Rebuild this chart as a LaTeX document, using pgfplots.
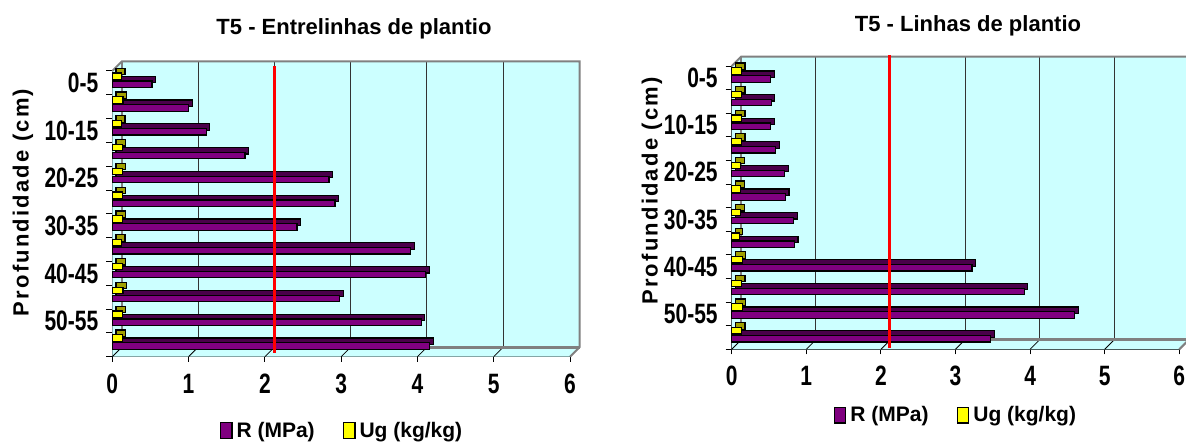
\documentclass[border=0pt]{standalone}
\usepackage{fontspec}
\setmainfont{Liberation Sans}
\newfontfamily\condfont{Liberation Sans Bold}[FakeStretch=0.75]
\newfontfamily\boldfont{Liberation Sans Bold}
\newfontfamily\spacedfont{Liberation Sans Bold}[LetterSpace=10]
\usepackage{pgfplots}
\pgfplotsset{compat=1.18}
\usepackage{pgfplotstable}
\definecolor{wall}{HTML}{CCFFFF}
\definecolor{rbar}{HTML}{800080}
\definecolor{rdark}{HTML}{4A004A}
\definecolor{ubar}{HTML}{FFFF00}
\definecolor{udark}{HTML}{A0A000}
\definecolor{wallgray}{HTML}{808080}
\definecolor{gridc}{HTML}{333333}
\newcommand\dep{4.75pt}

\pgfplotstableread{
y R Ug
12 0.52 0.12
11 1.00 0.14
10 1.23 0.12
9 1.74 0.13
8 2.84 0.13
7 2.92 0.13
6 2.42 0.13
5 3.91 0.12
4 4.11 0.13
3 2.98 0.14
2 4.05 0.13
1 4.16 0.13
}\leftdata

\pgfplotstableread{
y R Ug
12 0.52 0.13
11 0.53 0.13
10 0.52 0.13
9 0.59 0.13
8 0.71 0.12
7 0.72 0.12
6 0.83 0.12
5 0.84 0.10
4 3.22 0.14
3 3.92 0.13
2 4.60 0.14
1 3.47 0.13
}\rightdata

\pgfplotsset{
  chart3d/.style={
    scale only axis, clip=false,
    xmin=0, xmax=6, ymin=0.5, ymax=12.5,
    axis x line*=bottom, axis y line*=left,
    axis line style={black, line width=0.5pt, -},
    xtick={0,...,6},
    ytick={12,10,8,6,4,2},
    yticklabels={0-5,10-15,20-25,30-35,40-45,50-55},
    minor ytick={0.5,1.5,...,12.5},
    tick align=outside,
    major tick length=2.5pt, minor tick length=3pt,
    major y tick style={draw=none},
    minor y tick style={black, line width=0.5pt},
    major x tick style={black, line width=0.5pt},
    /pgf/number format/assume math mode=true,
    xticklabel style={font=\condfont\fontsize{14}{16}\selectfont, yshift=-2.5pt},
    yticklabel style={font=\condfont\fontsize{14}{16}\selectfont, xshift=-1pt},
    legend columns=2,
    legend style={draw=none, fill=none, font=\boldfont\fontsize{10.5}{12}\selectfont,
      /tikz/every even column/.append style={column sep=12pt}},
  },
  rstyle/.style={xbar, bar width=3.2pt, bar shift=-0.6pt, fill=rbar, draw=black, line width=0.6pt,
    legend image code/.code={\draw[fill=rbar, draw=black, line width=0.6pt] (0pt,-3.6pt) rectangle (5.8pt,4.2pt);}},
  rshadow/.style={xbar, bar width=3.2pt, bar shift=-0.6pt, fill=rdark, draw=black, line width=0.6pt, forget plot,
    xshift=1.8pt, yshift=2.4pt},
  ustyle/.style={xbar, bar width=3.2pt, bar shift=3.4pt, fill=ubar, draw=black, line width=0.6pt,
    legend image code/.code={\draw[fill=ubar, draw=black, line width=0.6pt] (0pt,-3.6pt) rectangle (5.8pt,4.2pt);}},
  ushadow/.style={xbar, bar width=3.2pt, bar shift=3.4pt, fill=udark, draw=black, line width=0.6pt, forget plot,
    xshift=1.8pt, yshift=2.4pt},
}

\newcommand\walls{%
  \fill[wall] (axis cs:0,0.5) -- (axis cs:6,0.5) -- ([shift={(\dep,\dep)}]axis cs:6,0.5)
    -- ([shift={(\dep,\dep)}]axis cs:6,12.5) -- ([shift={(\dep,\dep)}]axis cs:0,12.5)
    -- (axis cs:0,12.5) -- cycle;
  \pgfplotsinvokeforeach{1,...,5}{%
    \draw[gridc, line width=0.5pt] ([shift={(\dep,\dep)}]axis cs:##1,0.5) -- ([shift={(\dep,\dep)}]axis cs:##1,12.5);}
  \pgfplotsinvokeforeach{0,...,6}{%
    \draw[black, line width=0.4pt] (axis cs:##1,0.5) -- ([shift={(\dep,\dep)}]axis cs:##1,0.5);}
  \draw[wallgray, line width=1pt] (axis cs:0,12.5) -- ([shift={(\dep,\dep)}]axis cs:0,12.5)
    -- ([shift={(\dep,\dep)}]axis cs:6,12.5) -- ([shift={(\dep,\dep)}]axis cs:6,0.5) -- (axis cs:6,0.5);
  \draw[wallgray, line width=0.8pt] ([shift={(\dep,\dep)}]axis cs:0,12.5) -- ([shift={(\dep,\dep)}]axis cs:0,0.5);
  \draw[wallgray, line width=1.5pt] ([shift={(\dep,\dep)}]axis cs:0,0.5) -- ([shift={(\dep,\dep)}]axis cs:6,0.5);
}

\begin{document}
\begin{tikzpicture}
\path[use as bounding box] (0,0) rectangle (593pt,-221.5pt);

% left chart
\begin{axis}[chart3d, width=228.85pt, height=142.85pt, anchor=south west, at={(56.15pt,-178.35pt)},
  legend style={at={(0.504,-0.26)}, anchor=center}]
\walls
\addplot[rshadow] table[x=R, y=y] {\leftdata};
\addplot[rstyle] table[x=R, y=y] {\leftdata};
\addplot[ushadow] table[x=Ug, y=y] {\leftdata};
\addplot[ustyle] table[x=Ug, y=y] {\leftdata};
\addplot[red, line width=1.5pt, forget plot] coordinates {(2.13,0.66) (2.13,12.71)};
\legend{R (MPa), Ug (kg/kg)}
\end{axis}

% right chart
\begin{axis}[chart3d, width=223.8pt, height=141.65pt, anchor=south west, at={(365.85pt,-174.65pt)},
  legend style={at={(0.503,-0.235)}, anchor=center}]
\walls
\addplot[rshadow] table[x=R, y=y] {\rightdata};
\addplot[rstyle] table[x=R, y=y] {\rightdata};
\addplot[ushadow] table[x=Ug, y=y] {\rightdata};
\addplot[ustyle] table[x=Ug, y=y] {\rightdata};
\addplot[red, line width=1.5pt, forget plot] coordinates {(2.11,0.55) (2.11,12.97)};
\legend{R (MPa), Ug (kg/kg)}
\end{axis}

\node[anchor=base, font=\boldfont\fontsize{11}{13}\selectfont] at (177pt,-17.5pt) {T5 - Entrelinhas de plantio};
\node[anchor=base, font=\boldfont\fontsize{11}{13}\selectfont] at (484pt,-15.85pt) {T5 - Linhas de plantio};
\node[anchor=base, rotate=90, font=\spacedfont\fontsize{11}{13}\selectfont] at (14.25pt,-101.25pt) {Profundidade (cm)};
\node[anchor=base, rotate=90, font=\spacedfont\fontsize{11}{13}\selectfont] at (328.75pt,-95.5pt) {Profundidade (cm)};
\end{tikzpicture}
\end{document}
